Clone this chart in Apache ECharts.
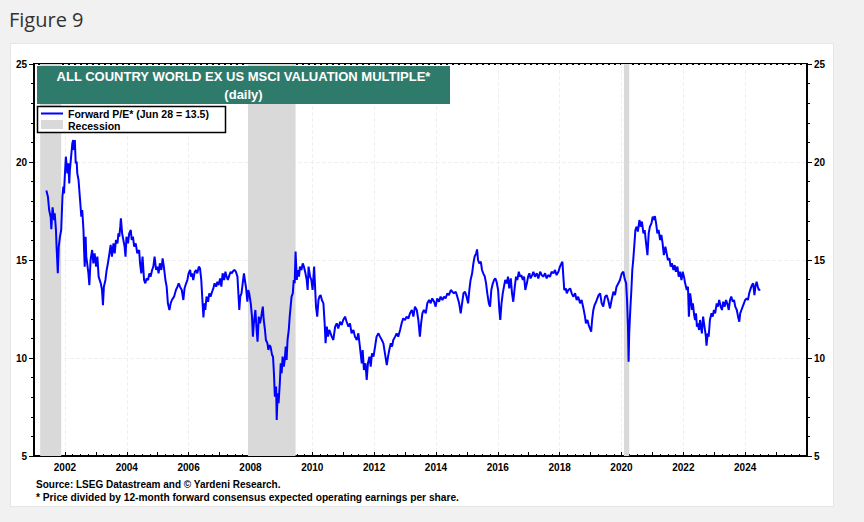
<!DOCTYPE html>
<html>
<head>
<meta charset="utf-8">
<script src="https://cdn.jsdelivr.net/npm/echarts@6/dist/echarts.min.js"></script>
<style>
html,body{margin:0;padding:0;background:#f1f1f1;width:864px;height:522px;overflow:hidden;}
#fig{position:absolute;left:9px;top:6px;font-family:"Open Sans",sans-serif;font-size:20px;color:#333;}
#card{position:absolute;left:10px;top:43px;width:824px;height:464px;background:#fff;border:1px solid #e6e6e6;box-sizing:border-box;}
#chart{position:absolute;left:0;top:0;width:864px;height:522px;}
</style>
</head>
<body>
<div id="fig">Figure 9</div>
<div id="card"></div>
<div id="chart"></div>
<script>
// ---- data (decimal years, forward P/E) ----
const dates = [
2001.40,2001.45,2001.49,2001.54,2001.56,2001.60,2001.65,2001.67,2001.71,2001.73,2001.77,2001.80,2001.84,2001.88,2001.92,2001.95,2001.97,2001.99,
2002.03,2002.08,2002.11,2002.14,2002.16,2002.21,2002.24,2002.27,2002.29,2002.32,2002.35,2002.38,2002.40,2002.44,2002.49,2002.53,2002.56,2002.60,
2002.62,2002.64,2002.67,2002.69,2002.72,2002.76,2002.79,2002.83,2002.88,2002.92,2002.96,2003.01,2003.05,2003.09,2003.16,2003.20,2003.23,2003.26,
2003.31,2003.35,2003.39,2003.44,2003.48,2003.52,2003.57,2003.61,2003.65,2003.70,2003.73,2003.76,2003.79,2003.81,2003.85,2003.89,2003.93,2003.96,
2003.99,2004.04,2004.08,2004.13,2004.16,2004.20,2004.24,2004.29,2004.34,2004.40,2004.43,2004.47,2004.51,2004.56,2004.60,2004.64,2004.69,2004.73,
2004.77,2004.82,2004.86,2004.90,2004.95,2004.99,2005.03,2005.07,2005.12,2005.16,2005.20,2005.25,2005.29,2005.33,2005.38,2005.42,2005.46,2005.53,
2005.59,2005.64,2005.68,
2005.72,2005.78,2005.83,2005.87,2005.92,2005.96,2006.00,2006.05,2006.08,2006.11,2006.15,2006.20,2006.24,2006.28,2006.33,2006.37,2006.41,2006.44,
2006.48,2006.51,2006.54,2006.58,2006.63,2006.67,2006.71,2006.76,2006.80,2006.84,2006.89,2006.93,2006.97,2007.02,2007.06,2007.10,2007.15,2007.19,
2007.23,2007.27,2007.32,2007.36,2007.40,2007.45,2007.49,2007.53,2007.58,2007.61,2007.64,2007.67,2007.71,2007.75,2007.79,2007.82,2007.86,2007.90,
2007.93,2007.96,2008.01,2008.05,2008.08,2008.11,2008.16,2008.20,2008.23,2008.27,2008.31,2008.35,2008.40,2008.43,2008.47,2008.50,2008.55,2008.58,
2008.61,2008.65,2008.70,2008.73,2008.76,2008.79,2008.83,2008.85,2008.88,2008.91,2008.95,2008.98,2009.01,2009.04,2009.08,2009.11,2009.14,2009.17,
2009.20,2009.24,2009.27,2009.30,2009.33,2009.37,2009.40,2009.43,2009.46,2009.50,2009.53,2009.57,2009.60,2009.65,2009.69,2009.73,2009.78,2009.82,
2009.85,2009.88,2009.93,2009.97,2010.01,2010.06,2010.09,2010.12,2010.16,2010.20,2010.23,2010.27,2010.31,2010.36,2010.40,2010.43,2010.47,2010.51,
2010.55,
2010.63,2010.68,2010.74,2010.79,2010.84,2010.90,2010.95,2011.00,2011.06,2011.11,2011.17,2011.22,2011.27,2011.33,2011.38,2011.44,2011.49,2011.54,
2011.60,2011.63,2011.67,2011.72,2011.76,2011.80,2011.85,2011.89,2011.93,2011.98,2012.03,2012.08,2012.14,2012.19,2012.25,2012.30,2012.35,2012.41,
2012.45,2012.49,2012.54,2012.58,2012.62,2012.68,2012.73,2012.78,2012.84,2012.89,2012.94,2013.00,2013.05,2013.11,2013.16,2013.22,2013.27,2013.32,
2013.38,2013.43,2013.48,2013.52,2013.56,2013.61,2013.67,2013.72,2013.78,2013.83,2013.88,2013.94,2013.99,2014.04,2014.10,2014.15,2014.21,2014.26,
2014.31,2014.37,2014.42,2014.48,2014.53,2014.58,2014.64,2014.69,2014.75,2014.80,2014.83,2014.89,2014.94,2014.99,2015.04,2015.08,2015.12,2015.17,
2015.21,2015.25,2015.30,2015.33,2015.36,2015.40,2015.45,2015.49,2015.53,2015.58,2015.62,2015.66,2015.71,2015.75,2015.79,2015.84,2015.88,2015.92,
2015.96,2016.01,2016.05,2016.08,2016.12,2016.16,2016.20,2016.24,2016.29,2016.33,2016.37,2016.42,2016.46,2016.50,2016.55,2016.59,2016.63,2016.68,
2016.72,2016.76,2016.81,2016.85,2016.89,2016.94,2016.98,2017.02,2017.06,2017.11,2017.15,2017.20,2017.26,2017.31,2017.37,2017.42,2017.47,2017.53,
2017.58,2017.63,2017.69,2017.74,2017.80,2017.85,2017.90,2017.96,2018.01,2018.06,2018.09,2018.12,2018.15,2018.20,2018.23,2018.28,2018.34,2018.39,
2018.44,2018.50,2018.55,2018.60,2018.66,2018.71,2018.77,2018.82,2018.85,2018.90,2018.94,2018.98,2019.02,2019.05,2019.09,2019.13,2019.18,2019.22,
2019.26,
2019.31,2019.36,2019.41,2019.47,2019.52,2019.57,2019.63,2019.68,2019.74,2019.79,2019.84,2019.90,2019.95,2020.01,2020.06,2020.10,2020.15,2020.18,
2020.21,2020.23,2020.25,2020.29,2020.32,2020.35,2020.38,2020.42,2020.45,2020.49,2020.53,2020.58,2020.62,2020.66,2020.71,2020.75,2020.79,2020.84,
2020.88,2020.92,2020.97,2021.01,2021.05,2021.08,2021.12,2021.16,2021.20,2021.25,2021.29,2021.33,2021.37,2021.42,2021.46,2021.50,2021.55,2021.59,
2021.63,2021.68,2021.72,2021.76,2021.81,2021.85,2021.89,2021.94,2021.98,2022.02,2022.06,2022.11,2022.15,2022.18,2022.22,2022.25,2022.28,2022.31,
2022.35,2022.38,2022.41,2022.44,2022.47,2022.51,2022.54,2022.57,2022.60,2022.64,2022.67,2022.70,2022.73,2022.75,2022.79,2022.82,2022.86,2022.91,
2022.95,2022.99,2023.03,2023.08,2023.12,2023.16,2023.21,2023.25,2023.29,2023.34,2023.38,2023.42,2023.47,2023.51,2023.55,2023.60,2023.64,2023.68,
2023.73,2023.77,2023.81,2023.84,2023.88,2023.92,2023.96,2024.00,2024.05,2024.09,2024.13,2024.18,2024.22,2024.26,2024.30,2024.33,2024.37,2024.41,
2024.44,2024.49
];
const forwardPE = [
18.54,18.23,17.55,17.18,16.57,17.69,17.04,17.38,16.53,15.68,14.32,15.68,16.19,16.53,18.23,18.74,18.40,19.08,
20.27,19.42,19.93,18.91,19.59,20.44,20.95,21.12,20.61,21.12,19.93,20.02,19.42,19.08,18.06,17.21,17.55,16.53,
15.51,14.66,16.19,15.17,14.83,14.32,13.72,15.00,15.51,14.83,15.34,14.66,15.17,14.15,13.81,13.47,12.70,13.64,
13.98,14.49,14.83,15.34,15.77,15.17,15.85,15.34,16.02,15.85,16.36,16.19,16.70,17.13,16.36,16.02,15.68,15.17,
16.19,15.85,16.36,16.53,16.02,16.19,15.68,15.85,15.34,15.51,14.83,14.32,15.17,13.98,13.81,14.06,13.98,14.32,
14.15,14.49,14.66,15.17,14.49,14.66,14.32,14.83,14.49,15.08,14.66,13.98,13.64,12.79,12.45,12.79,12.96,13.13,
13.47,13.64,13.81,
13.64,13.47,12.96,13.56,13.81,13.98,14.32,14.49,14.15,14.32,13.98,14.40,14.49,14.32,14.66,14.57,13.98,13.13,
12.07,12.79,12.45,13.13,12.87,13.30,13.13,13.38,13.55,13.81,13.64,13.89,13.72,14.06,13.64,14.32,13.98,14.40,
14.15,13.98,14.23,14.40,14.32,14.46,14.49,14.40,14.15,13.30,12.45,13.13,13.30,13.81,14.32,13.98,13.55,12.87,
13.47,13.30,12.79,12.11,11.09,11.77,12.45,11.43,10.83,12.11,11.77,12.11,12.62,11.94,11.43,10.92,10.75,10.41,
10.66,10.58,10.15,10.07,9.22,8.03,8.54,6.84,8.20,7.69,8.71,9.73,9.22,10.07,9.56,9.90,10.58,9.90,
10.92,11.43,12.11,12.62,13.13,13.30,13.98,13.81,15.43,13.98,14.49,14.15,14.66,14.49,14.83,14.66,14.32,13.98,
13.47,14.66,14.15,13.98,13.47,14.66,13.64,12.62,12.11,12.96,13.13,13.21,12.96,12.79,11.77,10.75,11.60,11.09,
11.43,
11.09,10.92,11.60,11.77,11.51,11.85,11.68,11.94,12.11,11.85,11.60,11.77,11.26,11.43,11.09,10.92,11.26,10.58,
9.73,10.41,9.39,9.73,8.88,9.73,10.07,9.56,10.24,10.07,10.58,11.09,11.26,11.09,10.92,10.75,10.24,9.64,
10.07,10.41,10.75,10.58,10.92,11.09,11.26,11.09,11.43,11.77,12.02,11.94,12.11,12.02,12.28,12.45,12.11,12.62,
12.45,11.94,11.09,11.77,12.28,12.45,12.28,12.79,12.96,12.79,13.04,12.87,12.62,13.04,12.87,13.13,12.96,13.13,
13.04,13.30,13.21,13.47,13.38,13.30,13.38,13.13,12.79,12.28,12.62,13.30,13.38,13.13,12.79,13.47,13.98,14.32,
14.83,15.17,15.34,15.54,15.00,14.83,14.91,14.49,14.32,14.15,13.81,13.30,12.79,12.62,13.47,13.81,13.98,14.06,
13.89,13.47,12.45,11.94,12.79,13.30,13.64,13.98,13.81,14.15,13.55,14.06,13.30,12.87,13.64,14.15,13.98,14.40,
14.15,14.23,13.98,14.15,13.47,13.81,14.15,14.32,14.06,14.23,14.40,14.15,14.32,14.06,14.40,14.23,14.15,14.32,
14.06,14.23,14.15,14.40,14.32,14.49,14.23,14.40,14.66,14.83,14.91,14.15,13.47,13.55,13.30,13.47,13.55,13.30,
13.13,13.30,12.96,13.13,12.79,12.96,12.53,12.11,11.77,11.94,11.68,11.51,11.34,11.94,12.45,12.70,12.87,13.04,
13.21,
13.30,12.79,12.62,13.13,13.21,12.96,12.53,12.96,13.38,13.21,13.64,13.81,13.98,14.32,14.40,14.06,13.81,12.96,
11.60,9.81,11.26,12.62,13.47,14.49,15.00,15.85,16.53,16.70,16.45,17.04,16.70,16.96,16.36,16.53,15.94,15.25,
16.36,16.70,16.87,17.21,17.04,17.24,16.87,16.36,16.53,16.02,16.28,15.85,15.25,15.68,15.34,15.00,15.08,14.66,
14.83,14.49,14.74,14.40,14.66,14.15,14.40,13.98,14.40,14.15,13.81,13.47,13.64,12.11,13.30,12.96,12.45,12.79,
12.19,11.94,12.28,11.60,11.77,11.43,11.94,11.60,11.26,12.11,11.77,11.43,11.09,10.63,11.26,11.09,11.94,12.28,
12.11,12.45,12.28,12.79,12.62,12.96,12.62,12.45,12.87,12.62,12.96,12.79,12.45,12.96,13.13,12.87,12.96,12.62,
12.45,12.11,11.85,12.28,12.45,12.62,12.79,12.96,13.04,12.96,13.30,13.55,13.72,13.81,13.21,13.64,13.89,13.64,
13.47,13.50
];
// recessions (decimal years)
const recessionStart = [2001.20, 2007.92, 2020.08];
const recessionEnd   = [2001.88, 2009.46, 2020.25];
// axis ticks
const xLabelYears = [2002,2004,2006,2008,2010,2012,2014,2016,2018,2020,2022,2024];
const yTicks = [5,10,15,20,25];

const seriesData = dates.map((d,i)=>[d, forwardPE[i]]);
const recAreas = recessionStart.map((s,i)=>[{xAxis:s},{xAxis:recessionEnd[i]}]);

const FONT = '"Liberation Sans", Arial, sans-serif';
const axisLabelStyle = {fontFamily:FONT, fontWeight:'bold', fontSize:10, color:'#000'};

function yAxisCfg(pos){
  return {
    type:'value', position:pos, min:yTicks[0], max:yTicks[yTicks.length-1], interval:5,
    axisLine:{show:true, lineStyle:{color:'#000', width:2}},
    axisTick:{show:true, inside:false, length:5, lineStyle:{color:'#000', width:1}},
    minorTick:{show:true, splitNumber:5, length:3, lineStyle:{color:'#000', width:1}},
    axisLabel:Object.assign({margin:7}, axisLabelStyle),
    splitLine:{show: pos==='left', lineStyle:{color:'#f0f0f0', width:1, type:'dashed'}},
    minorSplitLine:{show:false}
  };
}

const chart = echarts.init(document.getElementById('chart'), null, {renderer:'svg', width:864, height:522});
chart.setOption({
  animation:false,
  backgroundColor:'transparent',
  grid:{left:34, right:57, top:64, bottom:66, show:true, borderColor:'#000', borderWidth:2, backgroundColor:'#fff', containLabel:false},
  xAxis:{
    type:'value', min:2001, max:2026, interval:1,
    axisLine:{show:true, lineStyle:{color:'#000', width:2}},
    axisTick:{show:true, inside:true, length:4, lineStyle:{color:'#000'}},
    minorTick:{show:true, splitNumber:4, length:2, lineStyle:{color:'#000'}},
    axisLabel:Object.assign({margin:6, formatter:(v)=> xLabelYears.indexOf(Math.round(v))>=0 ? String(Math.round(v)) : ''}, axisLabelStyle),
    splitLine:{show:true, lineStyle:{color:['rgba(0,0,0,0)','#f0f0f0'], width:1, type:'dashed'}}
  },
  yAxis:[yAxisCfg('left'), yAxisCfg('right')],
  series:[{
    name:'Forward P/E* (Jun 28 = 13.5)',
    type:'line', data:seriesData, showSymbol:false, symbol:'none',
    lineStyle:{color:'#0000ff', width:2}, z:3,
    markArea:{silent:true, itemStyle:{color:'#d9d9d9'}, data:recAreas}
  }],
  graphic:[
    {type:'rect', z:100, shape:{x:37, y:66, width:413, height:38}, style:{fill:'#2e7b6c'}},
    {type:'text', z:101, x:243.5, y:76, style:{text:'ALL COUNTRY WORLD EX US MSCI VALUATION MULTIPLE*', fill:'#fff', font:'bold 13px '+FONT, textAlign:'center', textVerticalAlign:'middle'}},
    {type:'text', z:101, x:243.5, y:94, style:{text:'(daily)', fill:'#fff', font:'bold 13px '+FONT, textAlign:'center', textVerticalAlign:'middle'}},
    {type:'rect', z:100, shape:{x:37.5, y:106.5, width:188, height:26}, style:{fill:'#fff', stroke:'#000', lineWidth:1.5}},
    {type:'line', z:101, shape:{x1:41, y1:113.5, x2:63, y2:113.5}, style:{stroke:'#0000ff', lineWidth:2}},
    {type:'text', z:101, x:68, y:113.5, style:{text:'Forward P/E* (Jun 28 = 13.5)', fill:'#000', font:'bold 10.5px '+FONT, textVerticalAlign:'middle'}},
    {type:'rect', z:101, shape:{x:41, y:120, width:22, height:9}, style:{fill:'#d9d9d9'}},
    {type:'text', z:101, x:68, y:125.5, style:{text:'Recession', fill:'#000', font:'bold 10.5px '+FONT, textVerticalAlign:'middle'}},
    {type:'text', z:101, x:36, y:484, style:{text:'Source: LSEG Datastream and \u00A9 Yardeni Research.', fill:'#000', font:'bold 10px '+FONT, textVerticalAlign:'middle'}},
    {type:'text', z:101, x:36, y:497, style:{text:'* Price divided by 12-month forward consensus expected operating earnings per share.', fill:'#000', font:'bold 10.2px '+FONT, textVerticalAlign:'middle'}}
  ]
});
</script>
</body>
</html>
